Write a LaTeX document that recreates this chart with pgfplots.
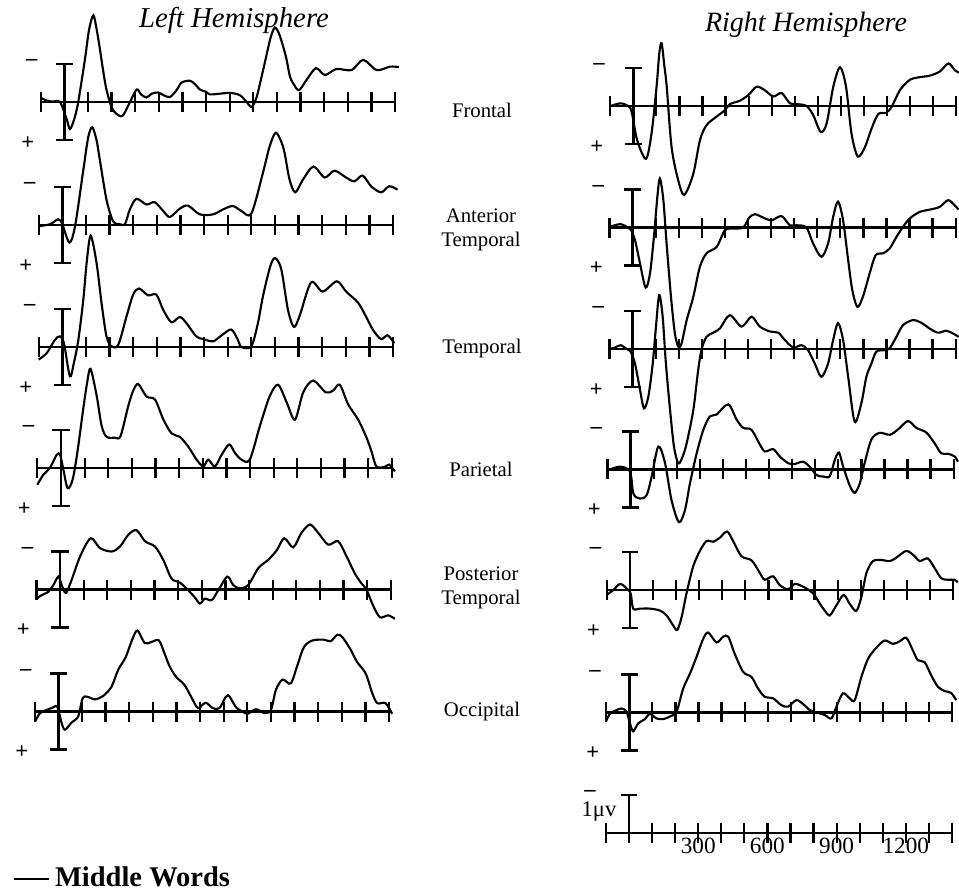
\documentclass[border=0pt]{standalone}
\usepackage{fontspec}
\setmainfont{Liberation Serif}
\usepackage{pgfplots}
\pgfplotsset{compat=1.18}

% one panel: baseline with 100 ms ticks, negative up
% (1 px of the reference = 0.4pt; axis placed by its west anchor = -100 ms on the baseline)
\pgfplotsset{
  erp/.style={
    anchor=west,
    y=15.2pt, y dir=reverse,
    xmin=-100, xmax=1400, ymin=-3.6, ymax=3.6,
    axis x line=middle, axis y line=none,
    axis line style={-, line width=1.1pt},
    xtick={-100,0,...,1400}, xticklabels={}, ytick=\empty,
    major tick length=8pt, tick align=center,
    every tick/.style={black, line width=0.9pt},
    clip=false,
  },
  erpL/.style={erp, x=0.09452pt},
  erpR/.style={erp, x=0.09228pt},
  wave/.style={black, line width=0.85pt, smooth, tension=0.5},
  cal/.style={black, line width=1pt},
}
\newcommand{\calbar}{%
  \addplot[cal] coordinates {(0,-1) (0,1)};
  \addplot[cal] coordinates {(-36,-1) (36,-1)};
  \addplot[cal] coordinates {(-36,1) (36,1)};
}
\newcommand{\signs}[2]{%
  \node[font=\fontsize{9}{9}\selectfont\bfseries] at (axis cs:#1,-1.03) {--};
  \node[font=\fontsize{9}{9}\selectfont\bfseries] at (axis cs:#2,1.08) {+};
}
\newcommand{\region}{\fontsize{8.3}{9.6}\selectfont}

\begin{document}
\begin{tikzpicture}
\path[use as bounding box] (0pt,0pt) rectangle (383.6pt,-356.8pt);

\node[font=\fontsize{11.5}{12}\selectfont\itshape] at (93.6pt,-8pt) {Left Hemisphere};
\node[font=\fontsize{11.2}{12}\selectfont\itshape] at (322.4pt,-10pt) {Right Hemisphere};

\node[font=\region] at (192.8pt,-44pt) {Frontal};
\node[font=\region, align=center] at (192.4pt,-92pt) {Anterior\\Temporal};
\node[font=\region] at (192.8pt,-139.6pt) {Temporal};
\node[font=\region] at (192.4pt,-187.6pt) {Parietal};
\node[font=\region, align=center] at (192.4pt,-235.2pt) {Posterior\\Temporal};
\node[font=\region] at (192.8pt,-284.4pt) {Occipital};

% ---------------- left hemisphere ----------------
\begin{axis}[erpL, at={(16.27pt,-40.8pt)}]
\calbar \signs{-138}{-155}
\addplot[wave] coordinates {
(-100,-0.12) (-80,-0.05) (-50,-0.01) (-18,0) (10,0.45) (24,0.71) (42,0.45) (59,0)
(87,-1.11) (105,-1.91) (123,-2.28) (137,-1.91) (151,-1.38) (165,-0.8) (179,-0.31)
(200,0.13) (220,0.31) (247,0.36) (278,0) (306,-0.33) (325,-0.2) (348,-0.12)
(370,-0.22) (398,-0.25) (420,-0.18) (447,-0.13) (475,-0.31) (496,-0.51) (532,-0.56)
(553,-0.47) (574,-0.33) (600,-0.27) (616,-0.2) (660,-0.22) (701,-0.24) (743,-0.18)
(772,0) (793,0.13) (814,-0.13) (840,-0.8) (856,-1.24) (873,-1.69) (891,-1.96)
(910,-1.78) (930,-1.38) (941,-1.11) (955,-0.67) (969,-0.49) (993,-0.31) (1025,-0.58)
(1065,-0.89) (1103,-0.71) (1152,-0.87) (1216,-0.84) (1265,-1.11) (1322,-0.84)
(1378,-0.93) (1416,-0.92)
};
\end{axis}

\begin{axis}[erpL, at={(15.47pt,-90pt)}]
\calbar \signs{-138}{-155}
\addplot[wave] coordinates {
(-100,0.03) (-52,-0.02) (-17,-0.15) (0,-0.02) (30,0.46) (54,0.03) (89,-1.45)
(110,-2.32) (127,-2.57) (145,-2.23) (159,-1.71) (187,-0.67) (215,-0.1) (244,-0.02)
(265,-0.02) (286,-0.41) (314,-0.69) (356,-0.54) (391,-0.6) (427,-0.37) (455,-0.21)
(497,-0.43) (532,-0.51) (582,-0.28) (638,-0.28) (680,-0.41) (722,-0.5) (758,-0.37)
(800,-0.3) (849,-1.37) (877,-2.06) (903,-2.43) (927,-2.19) (941,-1.89) (962,-1.19)
(986,-0.86) (1018,-1.19) (1063,-1.54) (1110,-1.25) (1152,-1.43) (1201,-1.25)
(1236,-1.15) (1271,-1.3) (1307,-1.02) (1349,-0.86) (1384,-1.02) (1419,-0.93)
};
\end{axis}

\begin{axis}[erpL, at={(15.47pt,-138.8pt)}]
\calbar \signs{-138}{-155}
\addplot[wave] coordinates {
(-100,0.33) (-66,0.16) (-31,-0.19) (-10,-0.28) (7,-0.1) (32,0.77) (49,0.42)
(68,-0.19) (89,-1.25) (103,-2.21) (120,-2.93) (145,-2.21) (166,-1.16) (187,-0.28)
(208,-0.02) (237,-0.06) (272,-0.81) (300,-1.38) (325,-1.54) (363,-1.36) (398,-1.38)
(427,-0.98) (462,-0.65) (497,-0.79) (525,-0.63) (567,-0.28) (596,-0.21) (638,-0.15)
(673,-0.3) (715,-0.46) (743,-0.19) (758,0) (800,-0.02) (828,-0.63) (849,-1.33)
(880,-2.12) (901,-2.34) (927,-2.04) (955,-0.98) (980,-0.53) (1004,-0.81) (1053,-1.7)
(1102,-1.46) (1162,-1.73) (1201,-1.46) (1250,-1.18) (1278,-0.89) (1314,-0.46)
(1349,-0.21) (1377,-0.31) (1405,-0.1)
};
\end{axis}

\begin{axis}[erpL, at={(14.95pt,-187.2pt)}]
\calbar \signs{-138}{-155}
\addplot[wave] coordinates {
(-100,0.44) (-75,0.18) (-47,0) (-18,-0.35) (-4,-0.35) (10,0.04) (28,0.53) (49,0.31)
(69,-0.4) (94,-1.55) (111,-2.26) (125,-2.61) (151,-1.9) (172,-1.11) (193,-0.82)
(228,-0.8) (252,-0.84) (285,-1.64) (306,-2.04) (327,-2.21) (362,-1.88) (398,-1.8)
(433,-1.28) (468,-0.91) (503,-0.82) (539,-0.56) (574,-0.22) (602,-0.04) (623,-0.22)
(651,-0.04) (680,-0.35) (712,-0.62) (736,-0.4) (764,-0.22) (799,-0.22) (842,-1.11)
(884,-1.9) (919,-2.19) (955,-1.73) (990,-1.27) (1025,-1.99) (1067,-2.3) (1121,-1.99)
(1152,-2.04) (1180,-2.19) (1215,-1.68) (1258,-1.27) (1293,-0.8) (1314,-0.44)
(1335,-0.04) (1371,-0.03) (1389,-0.09) (1413,0.09)
};
\end{axis}

\begin{axis}[erpL, at={(14.55pt,-235.8pt)}]
\calbar \signs{-138}{-155}
\addplot[wave] coordinates {
(-99,0.24) (-78,0.15) (-49,0.06) (-28,-0.12) (-7,-0.34) (7,-0.12) (25,0.09)
(49,-0.25) (85,-0.87) (130,-1.35) (169,-1.09) (219,-1.0) (254,-1.13) (289,-1.44)
(324,-1.56) (360,-1.27) (402,-1.13) (437,-0.78) (472,-0.29) (508,-0.18) (543,0.02)
(571,0.21) (592,0.37) (613,0.24) (642,0.28) (670,0.02) (708,-0.34) (733,-0.12)
(761,-0.03) (797,-0.12) (839,-0.56) (881,-0.78) (917,-1.03) (949,-1.35) (987,-1.11)
(1022,-1.49) (1058,-1.71) (1093,-1.49) (1135,-1.18) (1177,-1.27) (1213,-0.87)
(1248,-0.42) (1276,-0.16) (1297,0) (1325,0.42) (1354,0.73) (1389,0.68) (1417,0.77)
};
\end{axis}

\begin{axis}[erpL, at={(13.87pt,-284.6pt)},
  legend style={at={(-0.085,-0.112)}, anchor=west, draw=none, fill=none,
    font=\fontsize{11.4}{12}\selectfont\bfseries},
  legend image code/.code={\draw[black, line width=1pt] (0pt,0pt) -- (14pt,0pt);}]
\calbar \signs{-138}{-155}
\addplot[wave] coordinates {
(-98,0.26) (-77,0.04) (-49,-0.04) (-21,-0.11) (-4,-0.13) (14,0.3) (28,0.48) (56,0.29)
(84,0.13) (103,-0.35) (122,-0.39) (155,-0.32) (190,-0.41) (225,-0.65) (253,-1.09)
(285,-1.43) (314,-1.91) (335,-2.13) (366,-1.8) (394,-1.83) (426,-1.87) (450,-1.52)
(471,-1.19) (499,-0.91) (534,-0.7) (562,-0.39) (591,-0.09) (623,-0.23) (654,-0.09)
(682,-0.09) (717,-0.43) (752,-0.11) (780,0) (801,0.06) (837,-0.06) (872,0.04)
(900,-0.04) (921,-0.57) (949,-0.84) (984,-0.74) (1012,-1.22) (1040,-1.7) (1076,-1.87)
(1125,-1.89) (1153,-1.85) (1181,-2.02) (1202,-1.96) (1237,-1.63) (1265,-1.3)
(1301,-1.0) (1329,-0.48) (1350,-0.22) (1385,-0.22) (1413,0.06)
};
\addlegendentry{Middle Words}
\end{axis}

% ---------------- right hemisphere ----------------
\begin{axis}[erpR, at={(244.08pt,-42.4pt)}]
\calbar \signs{-149}{-158}
\addplot[wave] coordinates {
(-98,0) (-72,-0.05) (-51,-0.07) (-22,0) (-7,0.15) (17,0.9) (55,1.39) (79,0.73)
(101,-0.51) (113,-1.4) (123,-1.65) (135,-1.04) (145,-0.51) (166,1.08) (195,1.96)
(221,2.34) (260,1.79) (289,0.9) (318,0.5) (361,0.28) (397,0.11) (419,-0.05)
(462,-0.14) (499,-0.29) (535,-0.51) (571,-0.41) (607,-0.25) (643,-0.34) (679,-0.07)
(711,-0.05) (751,0) (780,0.24) (812,0.68) (838,0.46) (867,-0.51) (896,-1.02)
(922,-0.51) (946,0.73) (973,1.33) (1004,1.08) (1033,0.59) (1062,0.21) (1095,0.18)
(1120,0.02) (1156,-0.42) (1199,-0.69) (1243,-0.76) (1286,-0.8) (1329,-0.91)
(1366,-1.12) (1394,-0.94) (1412,-0.88)
};
\end{axis}

\begin{axis}[erpR, at={(243.84pt,-91pt)}]
\calbar \signs{-149}{-158}
\addplot[wave] coordinates {
(-101,-0.02) (-76,-0.06) (-52,-0.09) (-26,-0.02) (-9,0.05) (10,0.33) (32,0.95)
(56,1.58) (75,1.21) (92,0.25) (107,-0.81) (118,-1.29) (133,-0.72) (147,0.42)
(166,1.82) (183,2.79) (198,3.14) (212,3.05) (234,2.44) (263,1.82) (291,1.04)
(320,0.68) (364,0.51) (400,0.07) (436,0.03) (479,0) (505,-0.26) (530,-0.35)
(566,-0.26) (602,-0.19) (645,-0.3) (681,-0.06) (710,-0.06) (753,0) (782,0.42)
(818,0.77) (847,0.42) (869,-0.28) (890,-0.68) (912,-0.19) (934,0.86) (952,1.65)
(974,2.09) (998,1.82) (1027,1.21) (1053,0.73) (1085,0.68) (1114,0.55) (1143,0.25)
(1172,-0.02) (1201,-0.24) (1244,-0.41) (1287,-0.47) (1330,-0.54) (1367,-0.72)
(1395,-0.59) (1413,-0.47)
};
\end{axis}

\begin{axis}[erpR, at={(243.84pt,-139.6pt)}]
\calbar \signs{-149}{-158}
\addplot[wave] coordinates {
(-101,0) (-76,-0.04) (-52,-0.1) (-26,0) (-9,0.07) (10,0.38) (32,1.08) (49,1.56)
(68,1.25) (87,0.38) (101,-0.59) (115,-1.42) (130,-0.85) (144,0.38) (162,1.6)
(179,2.57) (198,3.01) (216,2.84) (234,2.48) (263,1.6) (284,0.55) (299,0)
(320,-0.32) (349,-0.43) (378,-0.54) (421,-0.89) (472,-0.59) (515,-0.85) (551,-0.59)
(595,-0.46) (631,-0.43) (659,-0.24) (696,-0.04) (732,-0.1) (760,0.03) (789,0.38)
(818,0.73) (847,0.38) (869,-0.24) (890,-0.68) (912,-0.24) (934,0.73) (962,1.91)
(991,1.43) (1013,0.73) (1035,0.38) (1056,0.07) (1092,0.03) (1114,-0.02) (1143,-0.32)
(1172,-0.63) (1215,-0.76) (1251,-0.69) (1287,-0.54) (1323,-0.43) (1359,-0.48)
(1388,-0.41) (1413,-0.32)
};
\end{axis}

\begin{axis}[erpR, at={(243.04pt,-187.72pt)}]
\calbar \signs{-149}{-158}
\addplot[wave] coordinates {
(-97,0.02) (-46,-0.07) (-3,0.06) (12,0.64) (40,0.77) (69,0.68) (91,0.19) (120,-0.6)
(149,-0.16) (177,0.81) (209,1.39) (235,1.08) (257,0.37) (286,-0.42) (315,-1.04)
(343,-1.39) (372,-1.44) (423,-1.71) (459,-1.31) (488,-1.09) (524,-1.04) (560,-0.65)
(582,-0.47) (618,-0.53) (646,-0.34) (683,-0.16) (711,-0.14) (747,-0.2) (776,-0.07)
(805,0.15) (834,0.19) (863,0.18) (885,-0.25) (903,-0.44) (921,-0.07) (949,0.42)
(971,0.62) (993,0.37) (1014,-0.16) (1043,-0.78) (1079,-0.96) (1123,-0.91)
(1159,-1.05) (1202,-1.27) (1238,-1.09) (1281,-0.97) (1317,-0.69) (1346,-0.42)
(1375,-0.41) (1404,-0.34) (1418,-0.2)
};
\end{axis}

\begin{axis}[erpR, at={(242.76pt,-236pt)}]
\calbar \signs{-149}{-158}
\addplot[wave] coordinates {
(-101,0.13) (-72,0) (-43,-0.16) (-14,-0.04) (3,0.09) (14,0.49) (43,0.49) (87,0.49)
(130,0.54) (159,0.67) (188,0.94) (205,1.05) (224,0.71) (245,0.09) (274,-0.62)
(303,-1.03) (332,-1.29) (361,-1.27) (390,-1.38) (421,-1.54) (447,-1.29) (483,-0.89)
(527,-0.78) (563,-0.45) (584,-0.27) (620,-0.36) (649,-0.13) (685,-0.02) (714,-0.16)
(750,-0.09) (794,0.09) (823,0.36) (844,0.54) (866,0.67) (895,0.4) (926,0.13)
(952,0.36) (981,0.55) (1003,0.18) (1025,-0.45) (1053,-0.76) (1089,-0.79) (1126,-0.76)
(1154,-0.85) (1198,-1.03) (1234,-0.89) (1255,-0.76) (1291,-0.83) (1320,-0.58)
(1349,-0.31) (1378,-0.27) (1407,-0.27) (1421,-0.2)
};
\end{axis}

\begin{axis}[erpR, at={(242.48pt,-284.92pt)}]
\calbar \signs{-149}{-158}
\addplot[wave] coordinates {
(-101,0.24) (-84,0.04) (-55,-0.06) (-33,-0.1) (-12,-0.02) (3,0.29) (17,0.5) (39,0.29)
(68,0.18) (89,0.04) (118,0.16) (147,0.18) (176,0.11) (205,-0.02) (234,-0.63)
(263,-1.02) (291,-1.45) (320,-1.93) (342,-2.1) (378,-1.84) (407,-1.99) (429,-1.99)
(457,-1.54) (494,-1.06) (530,-0.93) (558,-0.63) (587,-0.41) (623,-0.37) (659,-0.19)
(688,-0.15) (724,-0.32) (753,-0.22) (782,-0.06) (811,0) (847,0.07) (876,0.16)
(898,-0.15) (926,-0.5) (955,-0.37) (977,-0.32) (1006,-0.93) (1035,-1.41) (1071,-1.7)
(1107,-1.89) (1143,-1.8) (1172,-1.87) (1201,-1.96) (1229,-1.63) (1251,-1.37)
(1280,-1.32) (1309,-0.97) (1338,-0.67) (1367,-0.56) (1395,-0.51) (1417,-0.32)
};
\end{axis}

% ---------------- scale ----------------
\begin{axis}[erpR, at={(242.36pt,-333.2pt)},
  xticklabels={,,,,300,,,600,,,900,,,1200,,},
  xticklabel style={anchor=center, yshift=-1pt, font=\fontsize{9.3}{10}\selectfont}]
\addplot[cal] coordinates {(0,0) (0,-1)};
\addplot[cal] coordinates {(-36,-1) (36,-1)};
\node[font=\fontsize{9}{9}\selectfont\bfseries] at (axis cs:-169,-1.05) {--};
\node[font=\fontsize{9}{9}\selectfont] at (axis cs:-130,-0.56) {1μv};
\end{axis}
\end{tikzpicture}
\end{document}
